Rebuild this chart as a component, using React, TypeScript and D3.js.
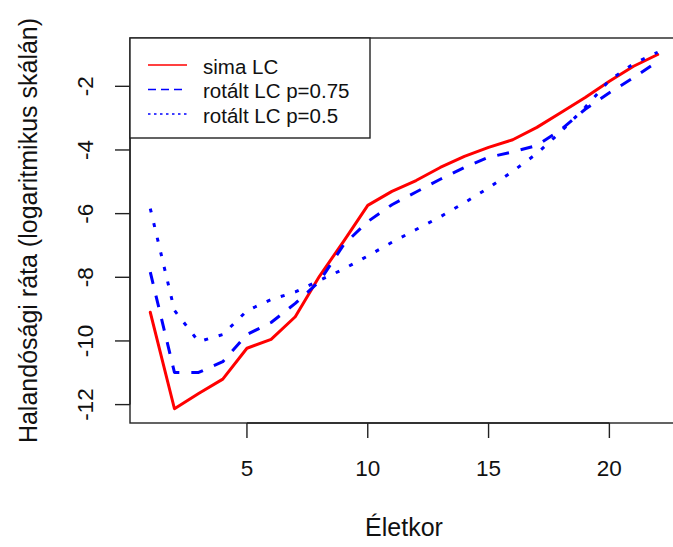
import React from "react";
import * as d3 from "d3";

// Age groups on the horizontal axis
const ages = [1, 2, 3, 4, 5, 6, 7, 8, 9, 10, 11, 12, 13, 14, 15, 16, 17, 18, 19, 20, 21, 22];

// Log mortality rates per model
const simaLC = [
  -9.1, -12.13, -11.65, -11.2, -10.23, -9.95, -9.24, -7.97, -6.87, -5.74, -5.3,
  -4.96, -4.55, -4.2, -3.92, -3.68, -3.29, -2.82, -2.35, -1.84, -1.37, -1.0,
];
const rotLC075 = [
  -7.84, -10.99, -10.99, -10.65, -9.8, -9.42, -8.82, -8.13, -6.98, -6.25, -5.72,
  -5.32, -4.92, -4.55, -4.23, -4.06, -3.86, -3.36, -2.72, -2.2, -1.73, -1.22,
];
const rotLC05 = [
  -5.84, -9.04, -10.02, -9.8, -9.05, -8.7, -8.46, -8.1, -7.74, -7.33, -6.9,
  -6.5, -6.1, -5.66, -5.19, -4.67, -4.11, -3.42, -2.66, -1.81, -1.29, -0.93,
];

const xTicks = [5, 10, 15, 20];
const yTicks = [-12, -10, -8, -6, -4, -2];

const legendLabels = ["sima LC", "rotált LC p=0.75", "rotált LC p=0.5"];

const FONT = "'Liberation Sans', Arial, sans-serif";
const FS_LEGEND = 20.5;
const FS_AXIS = 22.5;
const FS_TITLE = 25;

const W = 673;
const H = 547;
const plot = { left: 130, right: 678, top: 38, bottom: 423 };

// R-style 4% padding around the data range
function padded(lo: number, hi: number): [number, number] {
  const d = (hi - lo) * 0.04;
  return [lo - d, hi + d];
}

export default function App() {
  const allY = [...simaLC, ...rotLC075, ...rotLC05];
  const x = d3
    .scaleLinear()
    .domain(padded(d3.min(ages)!, d3.max(ages)!))
    .range([plot.left, plot.right]);
  const y = d3
    .scaleLinear()
    .domain(padded(d3.min(allY)!, d3.max(allY)!))
    .range([plot.bottom, plot.top]);

  const line = (vals: number[]) =>
    d3
      .line<number>()
      .x((_, i) => x(ages[i]))
      .y((v) => y(v))(vals) as string;

  const series = [
    { vals: simaLC, dash: undefined as string | undefined, legendDash: undefined as string | undefined, color: "#FF0000" },
    { vals: rotLC075, dash: "12,12", legendDash: "8,5", color: "#0000FF" },
    { vals: rotLC05, dash: "4,11", legendDash: "2.5,3.5", color: "#0000FF" },
  ];

  const legend = { x0: plot.left, y0: plot.top, x1: 370, y1: 138 };
  const rowY = [65, 89.5, 114];

  return (
    <svg
      width={W}
      height={H}
      style={{ position: "absolute", left: 0, top: 0, background: "#fff" }}
      fontFamily={FONT}
    >
      <rect x={0} y={0} width={W} height={H} fill="#fff" />

      {/* data lines */}
      <g fill="none" strokeLinejoin="round">
        {series.map((s, i) => (
          <path
            key={i}
            d={line(s.vals)}
            stroke={s.color}
            strokeWidth={3}
            strokeDasharray={s.dash}
            strokeLinecap={s.dash ? "butt" : "round"}
          />
        ))}
      </g>

      {/* plot frame */}
      <rect
        x={plot.left}
        y={plot.top}
        width={plot.right - plot.left}
        height={plot.bottom - plot.top}
        fill="none"
        stroke="#222"
        strokeWidth={1.4}
      />

      {/* x axis */}
      <g stroke="#222" strokeWidth={1.4}>
        <line x1={x(xTicks[0])} x2={x(xTicks[xTicks.length - 1])} y1={plot.bottom} y2={plot.bottom} />
        {xTicks.map((t) => (
          <line key={t} x1={x(t)} x2={x(t)} y1={plot.bottom} y2={plot.bottom + 15} />
        ))}
      </g>
      {xTicks.map((t) => (
        <text
          key={t}
          x={x(t)}
          y={468}
          fontSize={FS_AXIS}
          textAnchor="middle"
          dominantBaseline="central"
          fill="#111"
        >
          {t}
        </text>
      ))}
      <text x={(plot.left + plot.right) / 2} y={527} fontSize={FS_TITLE} textAnchor="middle" dominantBaseline="central" fill="#111">
        Életkor
      </text>

      {/* y axis */}
      <g stroke="#222" strokeWidth={1.4}>
        <line x1={plot.left} x2={plot.left} y1={y(yTicks[0])} y2={y(yTicks[yTicks.length - 1])} />
        {yTicks.map((t) => (
          <line key={t} x1={plot.left - 15} x2={plot.left} y1={y(t)} y2={y(t)} />
        ))}
      </g>
      {yTicks.map((t) => (
        <text
          key={t}
          transform={`translate(85,${y(t)}) rotate(-90)`}
          fontSize={FS_AXIS}
          textAnchor="middle"
          dominantBaseline="central"
          fill="#111"
        >
          {t}
        </text>
      ))}
      <text
        transform={`translate(28,${(plot.top + plot.bottom) / 2}) rotate(-90)`}
        fontSize={FS_TITLE}
        textAnchor="middle"
        dominantBaseline="central"
        fill="#111"
      >
        Halandósági ráta (logaritmikus skálán)
      </text>

      {/* legend */}
      <rect
        x={legend.x0}
        y={legend.y0}
        width={legend.x1 - legend.x0}
        height={legend.y1 - legend.y0}
        fill="#fff"
        stroke="#222"
        strokeWidth={1.4}
      />
      {series.map((s, i) => (
        <g key={i}>
          <line
            x1={148}
            x2={187}
            y1={rowY[i]}
            y2={rowY[i]}
            stroke={s.color}
            strokeWidth={1.6}
            strokeDasharray={s.legendDash}
          />
          <text x={203} y={rowY[i] + 1} fontSize={FS_LEGEND} dominantBaseline="central" fill="#111">
            {legendLabels[i]}
          </text>
        </g>
      ))}
    </svg>
  );
}
